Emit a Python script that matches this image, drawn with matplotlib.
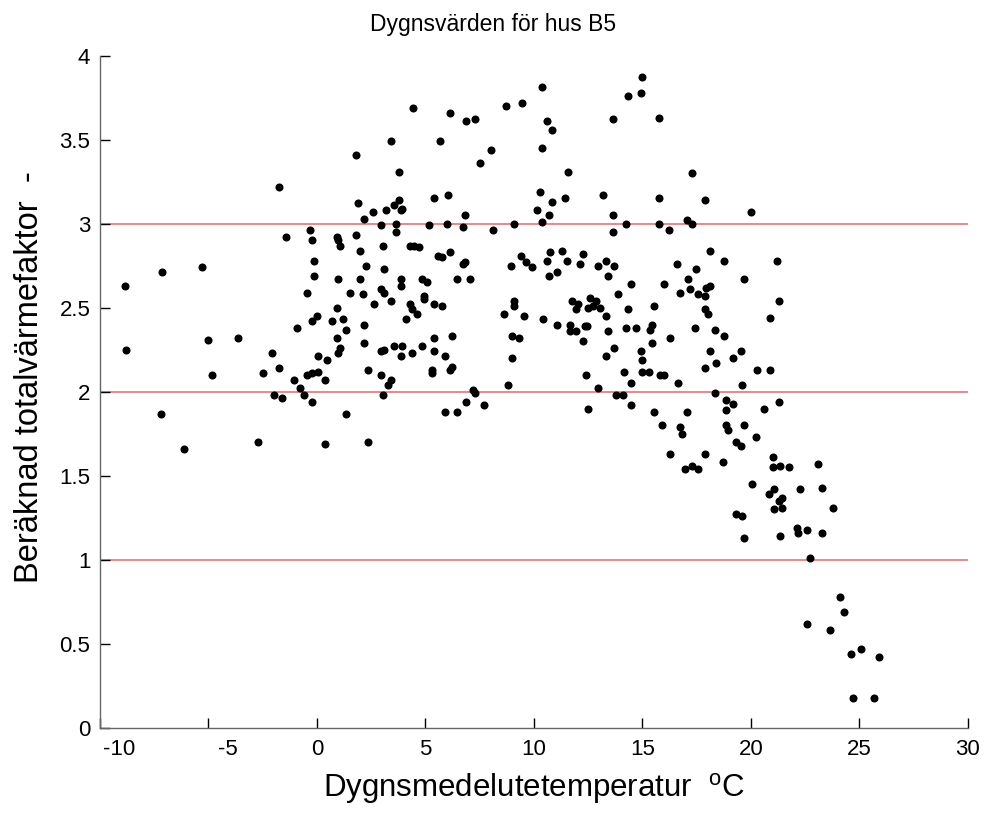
import matplotlib
matplotlib.use("Agg")
import matplotlib.pyplot as plt
from matplotlib.transforms import ScaledTranslation

plt.rcParams['font.family'] = ['Liberation Sans', 'DejaVu Sans']
plt.rcParams['mathtext.fontset'] = 'custom'
plt.rcParams['mathtext.rm'] = 'Liberation Sans'
plt.rcParams['axes.unicode_minus'] = False

# Dygnsmedelutetemperatur (°C) och beräknad totalvärmefaktor per dygn
temp = [
    -1.77, -1.41, -0.30, -0.21, -0.12, -0.12, -7.12, -5.28,
    -8.87, -0.48, -0.02, -0.21, -0.94, -8.78, -5.00, -3.62, -2.05, -1.77, -2.51, -4.82,
    0.07, 0.44, -0.48, -0.21, 0.07, 0.35, -1.04, -0.76, -1.96, -1.59, -0.58, -0.21,
    -7.21, -6.11, -2.70, 0.35,
    4.42, 6.15, 6.89, 7.26, 8.73, 9.47, 10.38, 10.38, 3.39, 5.69, 1.82, 8.00, 7.53, 3.76,
    5.41, 6.06, 3.76, 3.57, 3.94, 3.85, 3.20, 1.91, 2.56, 2.19, 6.80, 10.30, 10.12, 10.38,
    2.93, 3.66, 3.66, 5.14, 5.97, 6.71, 8.09, 9.10, 0.90, 0.99, 1.08, 1.82, 2.00, 3.02,
    4.31, 4.45, 4.68, 5.60, 5.78, 6.15, 6.71, 6.80, 2.28, 3.11, 8.92, 9.38, 9.65, 9.93,
    15.00, 14.91, 14.35, 13.62, 15.74, 10.58, 10.85, 11.59, 17.30, 10.85, 11.41, 13.16,
    15.74, 17.86, 10.67, 13.62, 19.98, 14.26, 15.74, 13.62, 16.20, 17.03, 17.30, 18.13,
    18.78, 10.76, 10.58, 11.31, 11.50, 12.24, 12.14, 11.04, 10.67, 12.97, 13.34, 13.71,
    13.43, 16.57, 17.49, 21.18,
    17.12, 19.70, 14.45, 16.01, 13.89, 16.75, 17.21, 17.95, 18.13, 17.58, 17.86, 11.77,
    12.05, 12.60, 12.88, 11.96, 12.51, 12.70, 13.06, 14.35, 15.55, 17.86, 18.04, 13.34,
    10.42, 11.04, 11.68, 12.33, 12.45, 11.68, 11.96, 13.43, 14.26, 14.72, 15.37, 15.46,
    17.40, 18.32, 18.78, 16.29, 12.24, 13.71, 13.34, 14.91, 15.46, 15.00, 18.13, 18.41,
    19.15, 19.52, 17.86, 14.17, 15.00, 15.28, 15.83, 16.01, 12.42, 14.45, 16.66, 19.61,
    12.97, 13.80, 14.08, 18.32, 12.51, 14.45, 15.55, 17.03, 18.87, 19.15, 18.87, 15.92,
    16.75, 16.84, 18.87, 18.96, 19.70, 20.25, 19.33, 19.52, 16.29, 17.86, 18.69, 16.94,
    17.30, 17.58, 20.07,
    0.99, 2.00, 3.85, 3.85, 4.86, 5.05, 6.43, 7.07, 1.54, 2.10, 2.93, 3.11, 3.39, 2.65,
    0.90, 4.31, 4.40, 4.59, 4.95, 4.95, 5.41, 5.78, 0.71, 1.18, 1.36, 2.19, 4.12, 0.90,
    1.08, 0.99, 2.19, 2.93, 3.11, 3.57, 3.94, 3.85, 4.40, 4.86, 5.41, 5.41, 5.88, 6.24,
    2.37, 2.93, 3.39, 3.29, 3.02, 5.32, 5.32, 6.24, 6.15, 7.17, 7.26, 6.89, 7.72, 5.88,
    6.43, 8.82, 1.36, 2.37, 8.64, 9.10, 9.10, 9.56, 9.01, 9.29, 9.01,
    21.27, 20.90, 20.30, 20.88, 21.27, 20.62, 21.00, 21.00, 21.36, 21.73, 23.11, 23.29,
    22.28, 21.08, 20.81, 21.45, 21.27,
    21.08, 21.45, 23.76, 22.10, 22.56, 22.19, 21.36, 23.29, 22.74, 24.12, 24.31, 22.56,
    23.66, 24.59, 25.05, 25.88, 24.68, 25.69,
    19.33, 19.61, 19.70,
]
faktor = [
    3.22, 2.92, 2.96, 2.90, 2.78, 2.69, 2.71, 2.74,
    2.63, 2.59, 2.45, 2.42, 2.38, 2.25, 2.31, 2.32, 2.23, 2.14, 2.11, 2.10,
    2.21, 2.19, 2.10, 2.11, 2.12, 2.07, 2.07, 2.02, 1.98, 1.96, 1.98, 1.94,
    1.87, 1.66, 1.70, 1.69,
    3.69, 3.66, 3.61, 3.62, 3.70, 3.72, 3.81, 3.45, 3.49, 3.49, 3.41, 3.44, 3.36, 3.31,
    3.15, 3.17, 3.14, 3.11, 3.09, 3.08, 3.08, 3.12, 3.07, 3.03, 3.05, 3.19, 3.08, 3.01,
    2.99, 3.00, 2.95, 2.99, 3.00, 2.98, 2.96, 3.00, 2.92, 2.90, 2.87, 2.93, 2.84, 2.87,
    2.87, 2.87, 2.86, 2.81, 2.80, 2.83, 2.76, 2.77, 2.75, 2.73, 2.75, 2.81, 2.77, 2.74,
    3.87, 3.78, 3.76, 3.62, 3.63, 3.61, 3.56, 3.31, 3.30, 3.13, 3.15, 3.17,
    3.15, 3.14, 3.05, 3.05, 3.07, 3.00, 3.00, 2.95, 2.96, 3.02, 3.00, 2.84,
    2.78, 2.83, 2.78, 2.84, 2.78, 2.82, 2.76, 2.71, 2.69, 2.75, 2.78, 2.75,
    2.69, 2.76, 2.73, 2.78,
    2.67, 2.67, 2.64, 2.64, 2.58, 2.59, 2.61, 2.62, 2.63, 2.58, 2.57, 2.54,
    2.52, 2.56, 2.54, 2.49, 2.50, 2.51, 2.50, 2.49, 2.51, 2.49, 2.46, 2.45,
    2.43, 2.40, 2.40, 2.39, 2.39, 2.36, 2.36, 2.36, 2.38, 2.38, 2.37, 2.40,
    2.38, 2.37, 2.33, 2.32, 2.30, 2.26, 2.21, 2.24, 2.29, 2.19, 2.24, 2.17,
    2.20, 2.24, 2.14, 2.12, 2.12, 2.12, 2.10, 2.10, 2.10, 2.05, 2.05, 2.04,
    2.02, 1.98, 1.98, 1.99, 1.90, 1.92, 1.88, 1.88, 1.95, 1.93, 1.89, 1.80,
    1.79, 1.75, 1.80, 1.77, 1.80, 1.73, 1.70, 1.68, 1.63, 1.63, 1.58, 1.54,
    1.56, 1.54, 1.45,
    2.67, 2.67, 2.67, 2.63, 2.67, 2.65, 2.67, 2.67, 2.59, 2.58, 2.61, 2.59, 2.54, 2.52,
    2.50, 2.52, 2.49, 2.46, 2.57, 2.55, 2.52, 2.51, 2.42, 2.43, 2.37, 2.40, 2.43, 2.32,
    2.26, 2.23, 2.29, 2.24, 2.25, 2.27, 2.27, 2.21, 2.23, 2.27, 2.32, 2.24, 2.21, 2.33,
    2.13, 2.10, 2.07, 2.04, 1.98, 2.13, 2.11, 2.15, 2.13, 2.01, 1.99, 1.94, 1.92, 1.88,
    1.88, 2.04, 1.87, 1.70, 2.46, 2.54, 2.51, 2.45, 2.33, 2.32, 2.20,
    2.54, 2.44, 2.13, 2.13, 1.94, 1.90, 1.61, 1.55, 1.56, 1.55, 1.57, 1.43,
    1.42, 1.42, 1.39, 1.37, 1.35,
    1.30, 1.31, 1.31, 1.19, 1.18, 1.16, 1.14, 1.16, 1.01, 0.78, 0.69, 0.62,
    0.58, 0.44, 0.47, 0.42, 0.18, 0.18,
    1.27, 1.26, 1.13,
]

ref_levels = [1, 2, 3]
x_ticks = [-10, -5, 0, 5, 10, 15, 20, 25, 30]
y_ticks = [0, 0.5, 1, 1.5, 2, 2.5, 3, 3.5, 4]
y_ticklabels = ['0', '0.5', '1', '1.5', '2', '2.5', '3', '3.5', '4']

fig = plt.figure(figsize=(9.86, 8.19), dpi=100)
ax = fig.add_axes([0.1014, 0.1111, 0.8803, 0.8211])

for lvl in ref_levels:
    ax.axhline(lvl, color='#f07070', lw=1.2, zorder=1)

ax.plot(temp, faktor, 'o', color='black', ms=5.8, mew=0, zorder=3)

ax.set_xlim(-10, 30)
ax.set_ylim(0, 4)
ax.set_xticks(x_ticks)
ax.set_yticks(y_ticks)
ax.set_yticklabels(y_ticklabels)

ax.spines['top'].set_visible(False)
ax.spines['right'].set_visible(False)
for s in ('left', 'bottom'):
    ax.spines[s].set_color('#666666')
    ax.spines[s].set_linewidth(1.0)
ax.tick_params(direction='in', length=7, width=1, colors='black', labelsize=16)
ax.tick_params(axis='x', pad=8)
ax.tick_params(axis='y', pad=7)

# negativa x-etiketter skjuts lite åt höger, bort från hörnet
for lab, val in zip(ax.get_xticklabels(), x_ticks):
    if val < 0:
        shift = ScaledTranslation(19 / 100, 0, fig.dpi_scale_trans)
        lab.set_transform(lab.get_transform() + shift)

# titel och y-etikett centreras mot hela figuren
fig.text(0.5, 1 - 25 / 819, 'Dygnsvärden för hus B5', fontsize=16.5,
         ha='center', va='center')
ax.set_xlabel(r'Dygnsmedelutetemperatur  $^{\rm o}$C', fontsize=22.5, labelpad=8)
fig.text(30 / 986, 1 - 377 / 819, 'Beräknad totalvärmefaktor  -', fontsize=23.5,
         rotation=90, ha='center', va='center')

fig.savefig('out.png', dpi=100)
